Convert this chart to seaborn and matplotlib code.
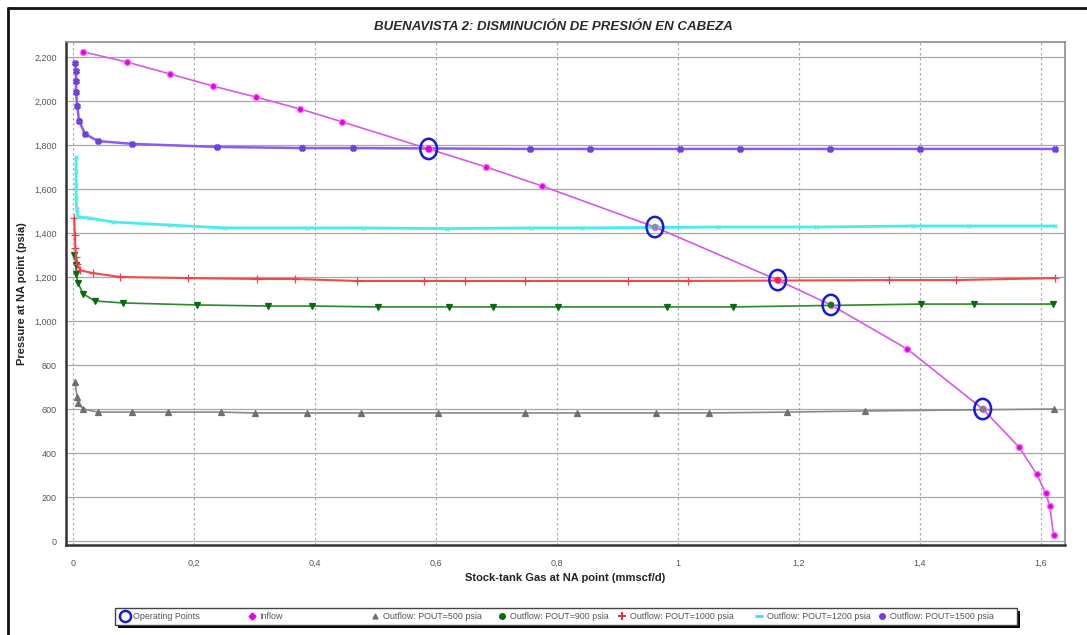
import matplotlib
matplotlib.use("Agg")
import matplotlib.pyplot as plt
from matplotlib.markers import MarkerStyle
from matplotlib.transforms import Affine2D
from matplotlib.ticker import FuncFormatter, MultipleLocator
from matplotlib.lines import Line2D
from matplotlib.patches import Rectangle
import seaborn as sns
import pandas as pd

sns.set_style("white")
plt.rcParams["font.family"] = ["Liberation Sans", "DejaVu Sans"]

# ---- data (gas rate in mmscf/d, pressure in psia) ----
inflow_q = [0.017, 0.089, 0.160, 0.231, 0.302, 0.375, 0.445, 0.588, 0.683, 0.775,
            0.962, 1.165, 1.253, 1.379, 1.504, 1.564, 1.593, 1.608, 1.615, 1.621]
inflow_p = [2223, 2177, 2123, 2068, 2018, 1964, 1905, 1782, 1700, 1614,
            1427, 1186, 1073, 873, 600, 427, 305, 218, 159, 27]

out500_q = [0.003, 0.007, 0.008, 0.017, 0.041, 0.098, 0.157, 0.245, 0.301, 0.387,
            0.476, 0.603, 0.747, 0.833, 0.964, 1.051, 1.180, 1.309, 1.621]
out500_p = [723, 655, 627, 600, 586, 586, 586, 586, 582, 582,
            582, 582, 582, 582, 582, 582, 586, 591, 600]

out900_q = [0.002, 0.005, 0.005, 0.008, 0.017, 0.036, 0.083, 0.205, 0.322, 0.395,
            0.504, 0.621, 0.694, 0.802, 0.982, 1.091, 1.402, 1.489, 1.620]
out900_p = [1300, 1255, 1214, 1173, 1123, 1091, 1082, 1073, 1068, 1068,
            1064, 1064, 1064, 1064, 1064, 1064, 1077, 1077, 1077]

out1000_q = [0.002, 0.003, 0.004, 0.005, 0.007, 0.012, 0.033, 0.078, 0.190, 0.304,
             0.367, 0.469, 0.580, 0.648, 0.747, 0.917, 1.017, 1.349, 1.460, 1.623]
out1000_p = [1470, 1390, 1330, 1290, 1260, 1230, 1218, 1200, 1195, 1191,
             1191, 1182, 1182, 1182, 1182, 1182, 1182, 1186, 1186, 1195]

out1200_q = [0.005, 0.005, 0.005, 0.005, 0.006, 0.008, 0.026, 0.066, 0.160, 0.251,
             0.387, 0.479, 0.618, 0.757, 0.841, 1.067, 1.229, 1.388, 1.481, 1.623]
out1200_p = [1745, 1680, 1620, 1560, 1510, 1473, 1468, 1450, 1436, 1423,
             1423, 1423, 1420, 1423, 1423, 1427, 1427, 1432, 1432, 1432]

out1500_q = [0.003, 0.005, 0.005, 0.005, 0.007, 0.010, 0.020, 0.041, 0.098, 0.238,
             0.379, 0.463, 0.755, 0.855, 1.003, 1.102, 1.251, 1.400, 1.623]
out1500_p = [2173, 2136, 2091, 2041, 1977, 1909, 1850, 1818, 1805, 1791,
             1786, 1786, 1782, 1782, 1782, 1782, 1782, 1782, 1782]

op_q = [0.588, 0.962, 1.165, 1.253, 1.504]
op_p = [1782, 1427, 1186, 1073, 600]
op_dot_colors = ["#E000E0", "#7F8FB0", "#FF2050", "#0A7A1A", "#808080"]

legend_labels = ["Operating Points", "Inflow", "Outflow: POUT=500 psia",
                 "Outflow: POUT=900 psia", "Outflow: POUT=1000 psia",
                 "Outflow: POUT=1200 psia", "Outflow: POUT=1500 psia"]

W, H = 1087, 635

# ---- figure ----
fig = plt.figure(figsize=(W / 100, H / 100), dpi=100)
ax = fig.add_axes([66 / W, 1 - 545 / H, (1065 - 66) / W, (545 - 42) / H])

ax.set_xlim(-0.0116, 1.640)
ax.set_ylim(-18, 2268)
ax.xaxis.set_major_locator(MultipleLocator(0.2))
ax.yaxis.set_major_locator(MultipleLocator(200))
ax.xaxis.set_major_formatter(FuncFormatter(lambda v, _: f"{v:.1f}".rstrip("0").rstrip(".").replace(".", ",")))
ax.yaxis.set_major_formatter(FuncFormatter(lambda v, _: f"{int(round(v)):,}"))

ax.grid(axis="y", color="#a8a8a8", linewidth=0.9, linestyle="-")
ax.grid(axis="x", color="#b0b0b0", linewidth=0.9, linestyle=(0, (2, 2)))
ax.set_axisbelow(True)

for side in ("left", "bottom"):
    ax.spines[side].set_color("#333333")
    ax.spines[side].set_linewidth(1.8)
for side in ("top", "right"):
    ax.spines[side].set_color("#8c8c8c")
    ax.spines[side].set_linewidth(1.2)

ax.tick_params(axis="both", labelsize=6.5, labelcolor="#555555", color="#888888",
               length=3, width=0.8, direction="out")
ax.tick_params(axis="x", pad=7)

series = [
    (out500_q, out500_p, "#8a8a8a", "#707070", "^", 4.2, 1.2),
    (out900_q, out900_p, "#2a8a2a", "#0a6a12", "v", 4.5, 1.2),
    (out1000_q, out1000_p, "#f24a4a", "#e84050", "+", 5.5, 1.5),
    (out1200_q, out1200_p, "#44eeee", "#60e8e8", "x", 3.2, 2.0),
    (out1500_q, out1500_p, "#8a5cf0", "#6f3fe0", "X", 4.2, 1.8),
]
for q, p, lc, mc, mk, ms, lw in series:
    df = pd.DataFrame({"q": q, "p": p})
    sns.lineplot(data=df, x="q", y="p", ax=ax, sort=False, estimator=None,
                 color=lc, linewidth=lw, marker=mk, markersize=ms,
                 markerfacecolor=mc, markeredgecolor=mc, markeredgewidth=0.9, zorder=3)

inflow_df = pd.DataFrame({"q": inflow_q, "p": inflow_p})
sns.lineplot(data=inflow_df, x="q", y="p", ax=ax, sort=False, estimator=None,
             color="#d858e8", linewidth=1.2, marker="o", markersize=4.5,
             markerfacecolor="#e800e0", markeredgecolor="#f080f0",
             markeredgewidth=0.9, zorder=4)

# operating points: open blue ellipses with a dot of the crossing curve's colour
ellipse = MarkerStyle("o", fillstyle="none", transform=Affine2D().scale(0.82, 1.0))
op_df = pd.DataFrame({"q": op_q, "p": op_p})
sns.scatterplot(data=op_df, x="q", y="p", ax=ax, marker=ellipse, s=215,
                color="#1a1ad8", linewidth=1.8, zorder=6)
sns.scatterplot(data=op_df, x="q", y="p", ax=ax, c=op_dot_colors, s=22,
                edgecolor="none", zorder=7)

ax.set_xlabel("Stock-tank Gas at NA point (mmscf/d)", fontsize=8, fontweight="bold",
              color="#222222", labelpad=4)
ax.set_ylabel("Pressure at NA point (psia)", fontsize=8, fontweight="bold",
              color="#222222", labelpad=5)

fig.text(553 / W, 1 - 27 / H, "BUENAVISTA 2: DISMINUCIÓN DE PRESIÓN EN CABEZA",
         ha="center", va="center", fontsize=9.5, fontweight="bold",
         fontstyle="italic", color="#2a2a2a")

# legend: boxed strip with a solid drop shadow and evenly placed entries
lx0, lx1 = 115, 1017
ly0, ly1 = 608, 625
fig.add_artist(Rectangle(((lx0 + 3) / W, 1 - (ly1 + 3) / H), (lx1 - lx0) / W, (ly1 - ly0) / H,
                         transform=fig.transFigure, facecolor="black", edgecolor="none",
                         zorder=1))
fig.add_artist(Rectangle((lx0 / W, 1 - ly1 / H), (lx1 - lx0) / W, (ly1 - ly0) / H,
                         transform=fig.transFigure, facecolor="white", edgecolor="#444444",
                         linewidth=1.0, zorder=2))
handles = [
    Line2D([], [], linestyle="none", marker="o", markersize=8, markerfacecolor="none",
           markeredgecolor="#1a1ad8", markeredgewidth=1.8),
    Line2D([], [], linestyle="none", marker="D", markersize=3.5, color="#e800e0"),
    Line2D([], [], linestyle="none", marker="^", markersize=3.5, color="#707070"),
    Line2D([], [], linestyle="none", marker="o", markersize=4.0, color="#0a6a12"),
    Line2D([], [], linestyle="none", marker="+", markersize=5.5, color="#e03040",
           markeredgewidth=1.4),
    Line2D([], [], linestyle="none", marker="_", markersize=6, color="#40e0e0",
           markeredgewidth=2),
    Line2D([], [], linestyle="none", marker="o", markersize=4.0, color="#6f3fe0"),
]
marker_x = [125, 252, 375, 502, 622, 759, 882]
for h, lab, mx in zip(handles, legend_labels, marker_x):
    lg = fig.legend([h], [lab], loc="center left",
                    bbox_to_anchor=((mx - 4) / W, 1 - (ly0 + ly1) / 2 / H),
                    frameon=False, fontsize=6.4, handlelength=0.9, handletextpad=0.4,
                    borderpad=0, borderaxespad=0, labelcolor="#555555")
    lg.set_zorder(3)

# outer frame (left and top edges)
fig.add_artist(Line2D([8 / W, 8 / W], [0, 1 - 8 / H], transform=fig.transFigure,
                      color="#111111", linewidth=2))
fig.add_artist(Line2D([8 / W, 1], [1 - 8 / H, 1 - 8 / H], transform=fig.transFigure,
                      color="#111111", linewidth=2))

fig.savefig("out.png", dpi=100)
